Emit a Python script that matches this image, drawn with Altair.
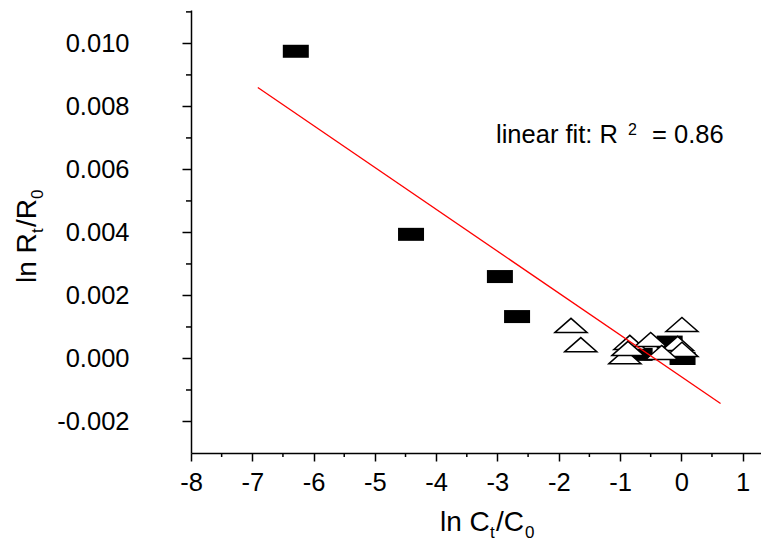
import altair as alt
import pandas as pd

# ---- data ----
rect_x = [-6.29, -4.41, -2.96, -2.68, -0.19, 0.02, -0.68]
rect_y = [0.00975, 0.00394, 0.00260, 0.00133, 0.00052, 0.00000, 0.00013]

tri_x = [-1.80, -1.64, 0.01, -0.84, -0.50, -0.06, -0.92, -0.87, 0.01, -0.32]
tri_y = [0.00105, 0.00044, 0.00108, 0.00051, 0.00060, 0.00048, 0.00006, 0.00032, 0.00029, 0.00019]

fit_x = [-6.91, 0.64]
fit_y = [0.0086, -0.00143]

x_ticks = [-8, -7, -6, -5, -4, -3, -2, -1, 0, 1]
x_minor = [-7.5, -6.5, -5.5, -4.5, -3.5, -2.5, -1.5, -0.5, 0.5]
y_ticks = [-0.002, 0.0, 0.002, 0.004, 0.006, 0.008, 0.010]
y_minor = [-0.001, 0.001, 0.003, 0.005, 0.007, 0.009, 0.011]

FONT = "Liberation Sans"
W, H = 570, 443

xs = alt.Scale(domain=[-8, 1.3], nice=False, zero=False)
ys = alt.Scale(domain=[-0.003, 0.01106], nice=False, zero=False)

xaxis = alt.Axis(values=x_ticks, title=None, grid=False, tickSize=8, tickWidth=1.5,
                 domainWidth=1.5, domainColor="black", tickColor="black",
                 labelColor="black", labelFont=FONT, labelFontSize=25.5, labelPadding=9,
                 labelFlush=False, labelOverlap=False,
                 labelExpr="datum.value < 0 ? '-' + format(-datum.value, 'd') : format(datum.value, 'd')")
yaxis = alt.Axis(values=y_ticks, title=None, grid=False, tickSize=9, tickWidth=1.5,
                 domainWidth=1.5, domainColor="black", tickColor="black",
                 labelColor="black", labelFont=FONT, labelFontSize=25.5, labelPadding=53,
                 labelFlush=False, labelOverlap=False,
                 labelExpr="datum.value < 0 ? '-' + format(-datum.value, '.3f') : format(datum.value, '.3f')")

X = alt.X("x:Q", scale=xs, axis=xaxis)
Y = alt.Y("y:Q", scale=ys, axis=yaxis)

rect_df = pd.DataFrame({"x": rect_x, "y": rect_y})
tri_df = pd.DataFrame({"x": tri_x, "y": tri_y})
fit_df = pd.DataFrame({"x": fit_x, "y": fit_y})

rects = alt.Chart(rect_df).mark_point(
    shape="M-1,-0.5H1V0.5H-1Z", size=676, filled=True, color="black",
    strokeWidth=0, opacity=1
).encode(x=X, y=Y)

tris = alt.Chart(tri_df).mark_point(
    shape="M-1,0.44L0,-0.44L1,0.44Z", size=1024, filled=True, fill="white",
    stroke="black", strokeWidth=1.5, opacity=1
).encode(x=X, y=Y)

fit = alt.Chart(fit_df).mark_line(color="#ff0000", strokeWidth=1.3).encode(x=X, y=Y)

xminor = alt.Chart(pd.DataFrame({"x": x_minor})).mark_rule(color="black", strokeWidth=1.5).encode(
    x=X, y=alt.value(H), y2=alt.value(H + 4))
yminor = alt.Chart(pd.DataFrame({"y": y_minor})).mark_rule(color="black", strokeWidth=1.5).encode(
    y=Y, x=alt.value(-5), x2=alt.value(0))


def label(txt, px, py, size, angle=0):
    return alt.Chart(pd.DataFrame({"t": [txt]})).mark_text(
        font=FONT, fontSize=size, align="left", baseline="alphabetic",
        color="black", angle=angle
    ).encode(text="t:N", x=alt.value(px), y=alt.value(py))


texts = [
    # x title: ln C_t/C_0
    label("ln C", 249, 521, 28),
    label("t", 299, 528, 17),
    label("/C", 305, 521, 28),
    label("0", 334, 528, 17),
    # y title: ln R_t/R_0
    label("ln R", -155, 273, 28, 270),
    label("t", -148, 223, 17, 270),
    label("/R", -155, 217, 28, 270),
    label("0", -148, 189, 17, 270),
    # annotation
    label("linear fit: R", 305, 133, 25.5),
    label("2", 437, 125, 16),
    label("= 0.86", 461, 133, 25.5),
]

chart = alt.layer(rects, tris, fit, xminor, yminor, *texts).properties(
    width=W, height=H,
    autosize=alt.AutoSizeParams(type="none"),
    padding={"left": 183, "top": 2, "right": 0, "bottom": 88},
    background="white",
).configure_view(stroke=None)

chart.save("out.html", embed_options={"renderer": "svg", "actions": False})
